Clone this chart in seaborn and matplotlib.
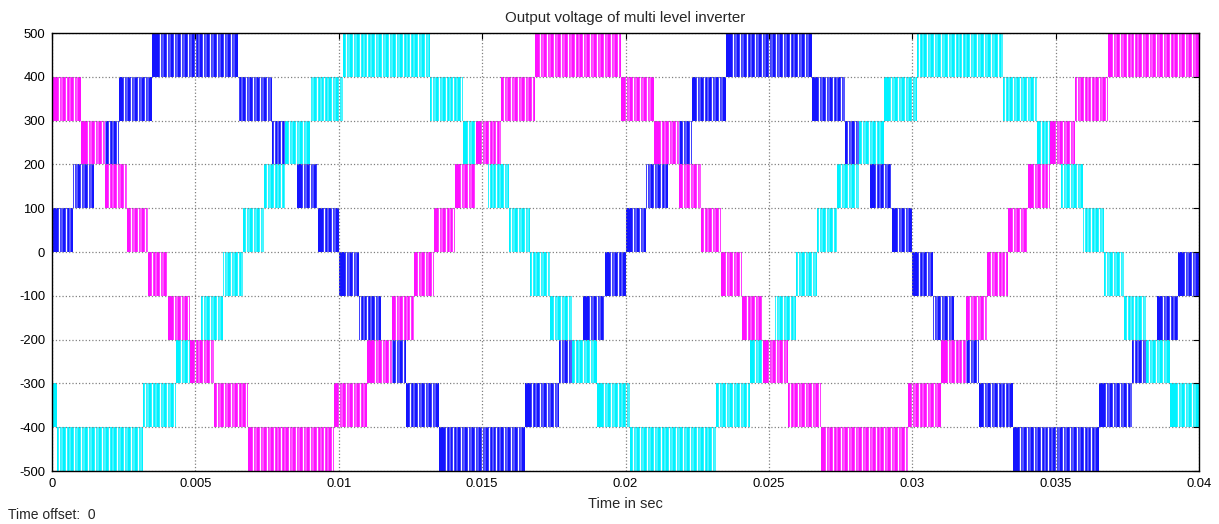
import numpy as np
import seaborn as sns
import matplotlib.pyplot as plt

# band edges (s) and lower level of each band (V)
blue_edges = [0, 0.00072, 0.00147, 0.00233, 0.00350, 0.00650, 0.00767, 0.00853, 0.00928, 0.01,
              0.01072, 0.01147, 0.01233, 0.01350, 0.01650, 0.01767, 0.01853, 0.01928, 0.02,
              0.02072, 0.02147, 0.02233, 0.02350, 0.02650, 0.02767, 0.02853, 0.02928, 0.03,
              0.03072, 0.03147, 0.03233, 0.03350, 0.03650, 0.03767, 0.03853, 0.03928, 0.04]
blue_bands = [0, 100, 200, 300, 400, 300, 200, 100, 0, -100, -200, -300, -400, -500, -400, -300, -200, -100,
              0, 100, 200, 300, 400, 300, 200, 100, 0, -100, -200, -300, -400, -500, -400, -300, -200, -100]

cyan_edges = [0, 0.00016, 0.00317, 0.00434, 0.00520, 0.00595, 0.00667, 0.00738, 0.00814, 0.00900,
              0.01016, 0.01317, 0.01434, 0.01520, 0.01595, 0.01667, 0.01738, 0.01814, 0.01900,
              0.02016, 0.02317, 0.02434, 0.02520, 0.02595, 0.02667, 0.02738, 0.02814, 0.02900,
              0.03016, 0.03317, 0.03434, 0.03520, 0.03595, 0.03667, 0.03738, 0.03814, 0.03900, 0.04]
cyan_bands = [-400, -500, -400, -300, -200, -100, 0, 100, 200, 300, 400, 300, 200, 100, 0, -100, -200, -300,
              -400, -500, -400, -300, -200, -100, 0, 100, 200, 300, 400, 300, 200, 100, 0, -100, -200, -300, -400]

magenta_edges = [0, 0.00100, 0.00186, 0.00262, 0.00333, 0.00405, 0.00480, 0.00566, 0.00683, 0.00984,
                 0.01100, 0.01186, 0.01262, 0.01333, 0.01405, 0.01480, 0.01566, 0.01683, 0.01984,
                 0.02100, 0.02186, 0.02262, 0.02333, 0.02405, 0.02480, 0.02566, 0.02683, 0.02984,
                 0.03100, 0.03186, 0.03262, 0.03333, 0.03405, 0.03480, 0.03566, 0.03683, 0.04]
magenta_bands = [300, 200, 100, 0, -100, -200, -300, -400, -500, -400, -300, -200, -100, 0, 100, 200, 300, 400,
                 300, 200, 100, 0, -100, -200, -300, -400, -500, -400, -300, -200, -100, 0, 100, 200, 300, 400]

step = 100          # level spacing (V)
carrier = 0.00025   # switching period seen in the stripes (s)

x_ticks = [0, 0.005, 0.01, 0.015, 0.02, 0.025, 0.03, 0.035, 0.04]
x_labels = ["0", "0.005", "0.01", "0.015", "0.02", "0.025", "0.03", "0.035", "0.04"]
y_ticks = [-500, -400, -300, -200, -100, 0, 100, 200, 300, 400, 500]

sns.set_style("white")
plt.rcParams['font.family'] = ['Liberation Sans', 'DejaVu Sans']
plt.rcParams['axes.unicode_minus'] = False

fig = plt.figure(figsize=(12.19, 5.24), dpi=100)
ax = fig.add_axes([0.0427, 0.1011, 0.9409, 0.8359])

phases = [(blue_edges, blue_bands, "#1414ff"),
          (cyan_edges, cyan_bands, "#00f2ff"),
          (magenta_edges, magenta_bands, "#ff10ff")]

for edges, bands, col in phases:
    for t0, t1, lo in zip(edges[:-1], edges[1:], bands):
        ax.fill_between([t0, t1], lo, lo + step, color=col, lw=0, zorder=2)
        # pwm stripes inside the band
        k = np.arange(np.ceil(t0 / carrier), np.floor(t1 / carrier) + 1) * carrier
        k = k[(k > t0) & (k < t1)]
        ax.vlines(k, lo, lo + step, color="white", lw=1.0, zorder=2)
        ax.vlines(k + carrier * 0.45, lo, lo + step, color="white", lw=1.4, alpha=0.3, zorder=2)

ax.set_xlim(0, 0.04)
ax.set_ylim(-500, 500)
ax.set_xticks(x_ticks)
ax.set_xticklabels(x_labels)
ax.set_yticks(y_ticks)
ax.grid(True, color="#808080", linestyle=":", linewidth=0.9, zorder=1)
ax.set_axisbelow(False)
for s in ax.spines.values():
    s.set_color("black")
    s.set_linewidth(1.0)
    s.set_zorder(5)
ax.tick_params(direction="in", length=4, width=0.8, top=True, right=True,
               labelsize=9.4, colors="black", pad=5)

ax.set_title("Output voltage of multi level inverter", fontsize=10.8, pad=8)
ax.set_xlabel("Time in sec", fontsize=10.5, labelpad=5)
fig.text(0.0066, 0.004, "Time offset:  0", fontsize=10, ha="left", va="bottom")

fig.savefig("out.png", dpi=100)
